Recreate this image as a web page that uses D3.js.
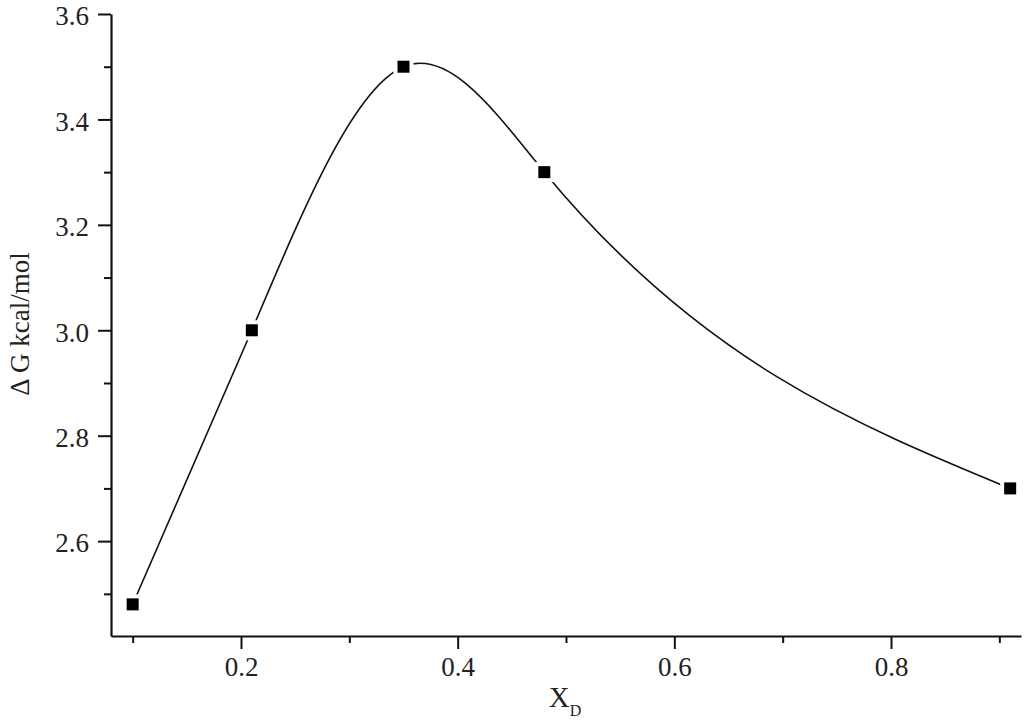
<!DOCTYPE html>
<html>
<head>
<meta charset="utf-8">
<script src="https://cdn.jsdelivr.net/npm/d3@7"></script>
<style>
  html, body { margin: 0; padding: 0; background: #fff; }
  svg { display: block; }
  text { font-family: "Liberation Serif", "Times New Roman", serif; fill: #222; }
</style>
</head>
<body>
<svg id="chart" width="1024" height="724"></svg>
<script>
// ---- data ----
const xValues = [0.10, 0.21, 0.35, 0.48, 0.91];
const yValues = [2.48, 3.00, 3.50, 3.30, 2.70];
const xMajorTicks = [0.2, 0.4, 0.6, 0.8];
const xMinorTicks = [0.1, 0.3, 0.5, 0.7, 0.9];
const yMajorTicks = [2.6, 2.8, 3.0, 3.2, 3.4, 3.6];
const yMinorTicks = [2.5, 2.7, 2.9, 3.1, 3.3, 3.5];
const xDomain = [0.08, 0.92];
const yDomain = [2.42, 3.6];

// ---- layout ----
const mLeft = 111, mRight = 1021, mTop = 14, mBottom = 636;
const svg = d3.select("#chart");
const x = d3.scaleLinear().domain(xDomain).range([mLeft, mRight]);
const y = d3.scaleLinear().domain(yDomain).range([mBottom, mTop]);

// natural cubic spline in x (Origin-style spline connection)
function NaturalX(context) { this._context = context; }
NaturalX.prototype = {
  areaStart() { this._line = 0; },
  areaEnd() { this._line = NaN; },
  lineStart() { this._x = []; this._y = []; },
  point(px, py) { this._x.push(+px); this._y.push(+py); },
  lineEnd() {
    const X = this._x, Y = this._y, n = X.length, c = this._context;
    if (!n) return;
    c.moveTo(X[0], Y[0]);
    if (n === 2) { c.lineTo(X[1], Y[1]); return; }
    const h = [], s = [];
    for (let i = 0; i < n - 1; i++) { h.push(X[i+1] - X[i]); s.push((Y[i+1] - Y[i]) / h[i]); }
    const m = n - 2, a = [], b = [], cc = [], d = [];
    for (let i = 1; i <= m; i++) {
      a.push(h[i-1]); b.push(2 * (h[i-1] + h[i])); cc.push(h[i]); d.push(6 * (s[i] - s[i-1]));
    }
    for (let i = 1; i < m; i++) {
      const w = a[i] / b[i-1];
      b[i] -= w * cc[i-1]; d[i] -= w * d[i-1];
    }
    const Mi = new Array(m);
    Mi[m-1] = d[m-1] / b[m-1];
    for (let i = m - 2; i >= 0; i--) Mi[i] = (d[i] - cc[i] * Mi[i+1]) / b[i];
    const M = [0, ...Mi, 0];
    for (let i = 0; i < n - 1; i++) {
      const d0 = s[i] - h[i] * (2 * M[i] + M[i+1]) / 6;
      const d1 = s[i] + h[i] * (M[i] + 2 * M[i+1]) / 6;
      c.bezierCurveTo(X[i] + h[i]/3, Y[i] + d0*h[i]/3, X[i+1] - h[i]/3, Y[i+1] - d1*h[i]/3, X[i+1], Y[i+1]);
    }
  }
};
const curveNaturalX = ctx => new NaturalX(ctx);

const data = xValues.map((v, i) => ({ x: v, y: yValues[i] }));

// ---- curve ----
const line = d3.line().x(d => x(d.x)).y(d => y(d.y)).curve(curveNaturalX);
svg.append("path").datum(data).attr("d", line)
  .attr("fill", "none").attr("stroke", "#111").attr("stroke-width", 1.6);

// gaps around symbols
svg.append("g").selectAll("rect").data(data).join("rect")
  .attr("x", d => x(d.x) - 10).attr("y", d => y(d.y) - 10)
  .attr("width", 20).attr("height", 20).attr("fill", "#fff");

// symbols
svg.append("g").selectAll("rect").data(data).join("rect")
  .attr("x", d => x(d.x) - 6).attr("y", d => y(d.y) - 6)
  .attr("width", 12).attr("height", 12).attr("fill", "#000");

// ---- axes ----
const fontSize = 27;
function styleAxis(g) {
  g.select(".domain").attr("stroke", "#111").attr("stroke-width", 2.2);
  g.selectAll(".tick line").attr("stroke", "#111").attr("stroke-width", 2);
  g.selectAll("text").style("font-family", '"Liberation Serif", serif')
    .style("font-size", fontSize + "px").attr("fill", "#222");
}

const xAxis = svg.append("g").attr("transform", `translate(0,${mBottom})`)
  .call(d3.axisBottom(x).tickValues(xMajorTicks).tickSize(13).tickSizeOuter(0).tickPadding(8)
    .tickFormat(d3.format(".1f")));
styleAxis(xAxis);
svg.append("g").attr("transform", `translate(0,${mBottom})`)
  .call(d3.axisBottom(x).tickValues(xMinorTicks).tickSize(7).tickSizeOuter(0).tickFormat(""))
  .call(g => { g.select(".domain").remove(); g.selectAll(".tick line").attr("stroke", "#111").attr("stroke-width", 2); });

const yAxis = svg.append("g").attr("transform", `translate(${mLeft},0)`)
  .call(d3.axisLeft(y).tickValues(yMajorTicks).tickSize(13).tickSizeOuter(0).tickPadding(9)
    .tickFormat(d3.format(".1f")));
styleAxis(yAxis);
yAxis.selectAll(".tick text").attr("dy", "0.4em");
svg.append("g").attr("transform", `translate(${mLeft},0)`)
  .call(d3.axisLeft(y).tickValues(yMinorTicks).tickSize(7).tickSizeOuter(0).tickFormat(""))
  .call(g => { g.select(".domain").remove(); g.selectAll(".tick line").attr("stroke", "#111").attr("stroke-width", 2); });

// ---- axis titles ----
const xt = svg.append("text").attr("x", 565).attr("y", 707).attr("text-anchor", "middle")
  .style("font-size", "29px");
xt.append("tspan").text("X");
xt.append("tspan").attr("dy", 9).style("font-size", "16px").text("D");

svg.append("text").attr("transform", "translate(29,324) rotate(-90)")
  .attr("text-anchor", "middle").style("font-size", "27px").text("Δ G kcal/mol");
</script>
</body>
</html>
